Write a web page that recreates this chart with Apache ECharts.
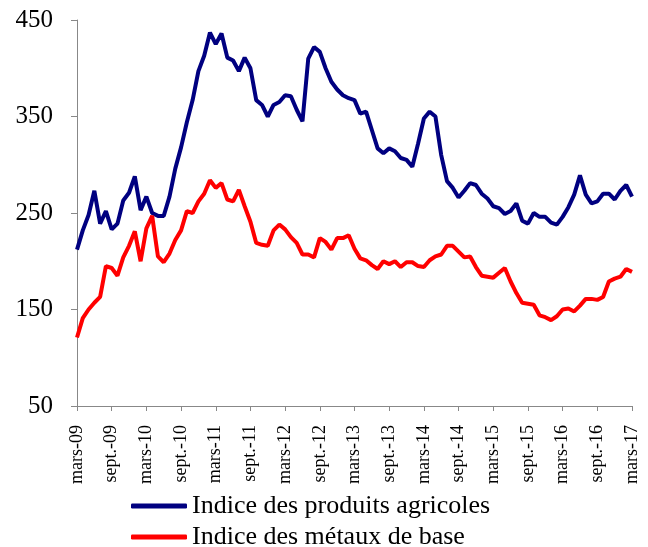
<!DOCTYPE html>
<html>
<head>
<meta charset="utf-8">
<script src="https://cdn.jsdelivr.net/npm/echarts@6/dist/echarts.min.js"></script>
<style>
    html, body { margin: 0; padding: 0; background: #fff; }
    #chart { width: 648px; height: 547px; }
</style>
</head>
<body>
<div id="chart"></div>
<script>
// mois de mars 2009 a mars 2017
var MONTHS = ["janv.", "févr.", "mars", "avr.", "mai", "juin", "juil.", "août", "sept.", "oct.", "nov.", "déc."];
var START_MONTH = 2, START_YEAR = 9, N_MONTHS = 97;
var SERIES_NAMES = ["Indice des produits agricoles", "Indice des métaux de base"];

var agricoles = [
    212, 232, 248, 273, 239, 252, 233, 239, 263, 271, 288, 253,
    267, 250, 247, 247, 267, 296, 318, 344, 367, 397, 413, 437,
    425, 436, 411, 408, 397, 411, 400, 367, 362, 350, 362, 365,
    372, 371, 357, 345, 410, 422, 417, 400, 386, 378, 372, 369,
    367, 353, 355, 336, 317, 312, 317, 314, 307, 305, 298, 322,
    348, 355, 350, 310, 283, 276, 266, 273, 281, 279, 270, 265,
    257, 255, 249, 252, 260, 242, 239, 250, 246, 246, 240, 238,
    246, 256, 269, 289, 269, 260, 262, 270, 270, 264, 273, 279,
    267
];
var metaux = [
    121, 141, 150, 157, 163, 195, 193, 185, 204, 216, 231, 200,
    234, 247, 205, 199, 208, 222, 232, 252, 250, 262, 270, 284,
    276, 281, 264, 262, 274, 257, 241, 219, 217, 216, 232, 238,
    233, 225, 219, 207, 207, 204, 224, 220, 212, 224, 224, 227,
    213, 203, 201, 196, 192, 200, 197, 200, 194, 199, 199, 195,
    194, 201, 205, 207, 216, 216, 210, 204, 205, 194, 185, 184,
    183, 188, 193, 179, 167, 157, 156, 155, 144, 142, 139, 143,
    150, 151, 148, 154, 161, 161, 160, 163, 179, 182, 184, 192,
    189
];

var categories = [];
for (var i = 0; i < N_MONTHS; i++) {
    var m = (START_MONTH + i) % 12;
    var y = START_YEAR + Math.floor((START_MONTH + i) / 12);
    categories.push(MONTHS[m] + "-" + (y < 10 ? "0" + y : y));
}

var FONT = "'Liberation Serif', 'DejaVu Serif', serif";

function make_legend(name, top) {
    return {
        left: 126,
        top: top,
        itemWidth: 56,
        itemHeight: 5,
        textStyle: {fontFamily: FONT, fontSize: 26, color: "#000"},
        data: [{name: name, icon: "roundRect"}]
    };
}

var chart = echarts.init(document.getElementById("chart"));
chart.setOption({
    animation: false,
    grid: {left: 77, right: 16, top: 20, bottom: 141},
    legend: [
        make_legend(SERIES_NAMES[0], 488),
        make_legend(SERIES_NAMES[1], 519)
    ],
    xAxis: {
        type: "category",
        data: categories,
        boundaryGap: false,
        axisLine: {lineStyle: {color: "#888", width: 1}},
        axisTick: {show: true, interval: 5, length: 5, lineStyle: {color: "#888"}},
        axisLabel: {interval: 5, rotate: 90, fontFamily: FONT, fontSize: 18, color: "#000", margin: 19}
    },
    yAxis: {
        type: "value",
        min: 50,
        max: 450,
        interval: 100,
        splitLine: {show: false},
        axisLine: {show: true, lineStyle: {color: "#888", width: 1}},
        axisTick: {show: true, length: 6, lineStyle: {color: "#888"}},
        axisLabel: {fontFamily: FONT, fontSize: 25, color: "#000", margin: 24}
    },
    series: [
        {
            name: SERIES_NAMES[0],
            type: "line",
            data: agricoles,
            showSymbol: false,
            lineStyle: {color: "#000080", width: 4},
            itemStyle: {color: "#000080"}
        },
        {
            name: SERIES_NAMES[1],
            type: "line",
            data: metaux,
            showSymbol: false,
            lineStyle: {color: "#ff0000", width: 4},
            itemStyle: {color: "#ff0000"}
        }
    ]
});
</script>
</body>
</html>
